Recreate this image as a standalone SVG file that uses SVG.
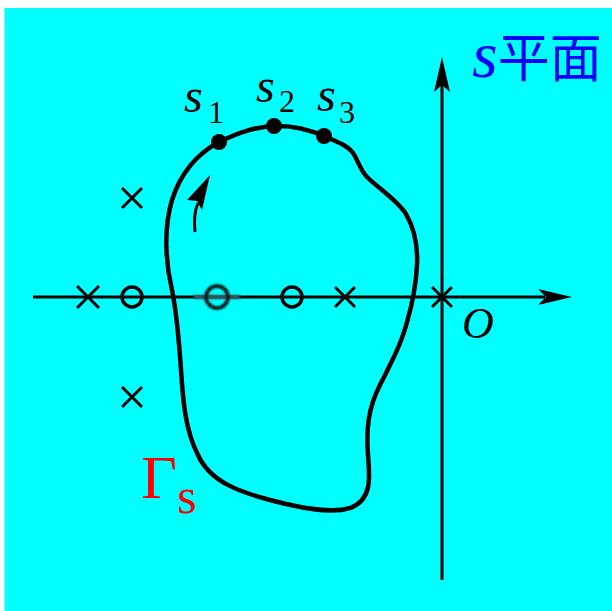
<svg xmlns="http://www.w3.org/2000/svg" width="612" height="611" viewBox="0 0 612 611">
<style>
.ax{stroke:#000;stroke-width:3;fill:none}
.pole{stroke:#000;stroke-width:3;fill:none}
.zero{stroke:#000;stroke-width:3.5;fill:none}
.curve{stroke:#000;stroke-width:4.5;fill:none;stroke-linejoin:round}
.it{font-family:"Liberation Serif","Times New Roman",serif;font-style:italic}
.rm{font-family:"Liberation Serif","Times New Roman",serif}
</style>
<defs>
<filter id="blur" x="-50%" y="-50%" width="200%" height="200%"><feGaussianBlur stdDeviation="1.2"/></filter>
</defs>
<rect x="4.5" y="8" width="607.5" height="603" fill="#00FFFF"/>
<g id="axes">
<line class="ax" x1="33" y1="297" x2="545" y2="297"/>
<polygon points="572,297 538,289 546,297 538,305" fill="#000"/>
<line class="ax" x1="442" y1="580" x2="442" y2="85"/>
<polygon points="442,57 434,92 442,85 450,92" fill="#000"/>
</g>
<g id="poles">
<path class="pole" d="M77,286 L99,308 M99,286 L77,308"/>
<path class="pole" d="M335,287 L355,307 M355,287 L335,307"/>
<path class="pole" d="M122,188 L142,208 M142,188 L122,208"/>
<path class="pole" d="M122,387 L142,407 M142,387 L122,407"/>
<path class="pole" d="M432,287 L452,307 M452,287 L432,307"/>
</g>
<g id="zeros">
<circle class="zero" cx="132" cy="297" r="10"/>
<circle class="zero" cx="292" cy="297" r="10"/>
<g filter="url(#blur)">
<line x1="194" y1="297" x2="240" y2="297" stroke="#3a5a5a" stroke-width="4"/>
<circle class="zero" cx="217" cy="297" r="11"/>
</g>
</g>
<g id="contour">
<path class="curve" d="M219,142 C240,132 255,127 274,126 C295,125 310,130 324,136 C338,142 348,146 353,153 C358,160 360,170 367,177 C378,188 397,200 406,214 C414,228 418,245 417,265 C416,285 412,305 407,322 C401,345 390,365 380,385 C368,408 366,430 368,455 C370,478 372,500 350,508 C330,514 300,508 270,500 C240,492 210,482 198,455 C185,430 183,400 181,370 C179,340 176,310 172,290 C166,265 163,230 172,200 C180,175 195,155 219,142 Z"/>
<path d="M195,232 C194,222 194,212 198,203" stroke="#000" stroke-width="3" fill="none"/>
<polygon points="210,175 187,200 197,201 202,210" fill="#000"/>
</g>
<g id="points">
<circle cx="219" cy="142" r="8" fill="#000"/>
<circle cx="274" cy="126" r="8" fill="#000"/>
<circle cx="324" cy="136" r="8" fill="#000"/>
</g>
<g id="labels">
<text class="it" x="184" y="112" font-size="48">s</text>
<text class="rm" x="208" y="123" font-size="32">1</text>
<text class="it" x="256" y="102" font-size="48">s</text>
<text class="rm" x="279" y="112" font-size="32">2</text>
<text class="it" x="317" y="111" font-size="48">s</text>
<text class="rm" x="339" y="123" font-size="32">3</text>
<text class="it" x="462" y="338" font-size="44">O</text>
<text x="472" y="77" fill="#0000FF"><tspan class="it" font-size="66">s</tspan><tspan font-family="'Noto Sans CJK SC',sans-serif" font-size="52">平面</tspan></text>
<text class="rm" x="141" y="498" font-size="62" fill="#FF0000">Γ</text>
<text class="rm" x="177" y="513" font-size="50" fill="#FF0000">s</text>
</g>
</svg>
